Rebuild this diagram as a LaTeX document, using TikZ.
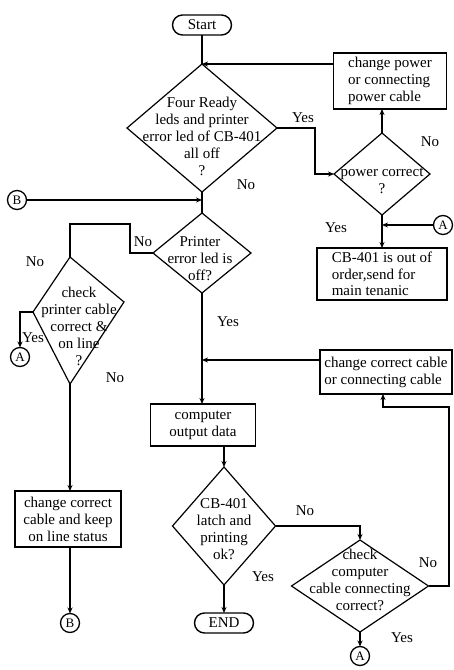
\documentclass[tikz,border=0pt]{standalone}
\usepackage{fontspec}
\setmainfont{Liberation Serif}
\usetikzlibrary{shapes.geometric,shapes.misc,arrows.meta}
\begin{document}
\begin{tikzpicture}[x=1pt,y=-1pt,
  every node/.style={font=\fontsize{15}{17}\selectfont, outer sep=0pt},
  ln/.style={line width=1.2pt},
  arr/.style={ln,-{Stealth[length=6pt,width=5pt]}},
  box/.style={draw,line width=1.6pt,inner sep=0pt},
  dia/.style={draw,diamond,line width=1.2pt,inner sep=0pt,aspect=1},
  term/.style={draw,rounded rectangle,line width=1.4pt,minimum width=59pt,minimum height=20pt,inner sep=0pt},
  circ/.style={draw,circle,line width=1.3pt,minimum size=19pt,inner sep=0pt,font=\fontsize{13}{13}\selectfont},
  txt/.style={align=center,inner sep=0pt},
  lbl/.style={inner sep=0pt}]
\useasboundingbox (0,0) rectangle (453,670);
\fill[white] (0,0) rectangle (453,670);

% terminators and connectors circles
\node[term] (start) at (202,25) {Start};
\node[term] (END) at (224,623) {END};
\node[circ] (B1) at (17,200) {B};
\node[circ] (B2) at (70,623) {B};
\node[circ] (A1) at (20,357) {A};
\node[circ] (A3) at (443,225) {A};
\node[circ] (A4) at (360,656) {A};

% diamonds
\node[dia,minimum width=150pt,minimum height=128pt] (d1) at (202,128) {};
\node[txt] (t1) at (202,136) {Four Ready\\leds and printer\\error led of CB-401\\all off\\?};
\node[dia,minimum width=96pt,minimum height=82pt] (d2) at (382,174) {};
\node[txt] (t2) at (382,181) {power correct\\?};
\node[dia,minimum width=98pt,minimum height=80pt] (d3) at (202,253) {};
\node[txt] (t3) at (200,259) {Printer\\error led is\\off?};
\coordinate (d4n) at (70,257);
\coordinate (d4w) at (33,312);
\coordinate (d4e) at (124,302);
\coordinate (d4s) at (70,384);
\draw[line width=1.2pt] (d4n) -- (d4e) -- (d4s) -- (d4w) -- cycle;
\node[txt] (t4) at (79,326) {check\\printer cable\\correct \&\\on line\\?};
\node[dia,minimum width=103pt,minimum height=118pt] (d5) at (224,526) {};
\node[txt] (t5) at (224,529) {CB-401\\latch and\\printing\\ok?};
\node[dia,minimum width=137pt,minimum height=92pt] (d6) at (360,586) {};
\node[txt] (t6) at (360,580) {check\\computer\\cable connecting\\correct?};

% boxes
\node[box,align=left,minimum width=113pt,minimum height=56pt] (p1) at (390,81) {change power\\or connecting\\power cable};
\node[box,align=left,minimum width=130pt,minimum height=52pt,font=\fontsize{15}{16.5}\selectfont] (cb) at (382,274) {CB-401 is out of\\order,send for\\main tenanic};
\node[box,align=left,minimum width=132pt,minimum height=44pt] (cc) at (386,372) {change correct cable\\or connecting cable};
\node[box,align=center,minimum width=105pt,minimum height=42pt] (co) at (203,425) {computer\\output data};
\node[box,align=center,minimum width=106pt,minimum height=56pt] (c1) at (68,519) {change correct\\cable and keep\\on line status};

% junction coordinates
\coordinate (j0) at (202,200);
\coordinate (j1) at (382,225);
\coordinate (j2) at (202,360);
\coordinate (k1) at (315,174);
\coordinate (k3) at (130,224);
\coordinate (k2) at (449,407);
\coordinate (k5) at (383,407);

% connectors
\draw[ln] (start.south) -- (d1.north);
\draw[arr] (p1.west |- d1.north) -- (d1.north);
\draw[ln] (d1.south) -- (d3.north);
\draw[arr] (B1.east) -- (j0);
\draw[arr] (d1.east) -| (k1) -- (d2.west);
\draw[arr] (d2.north) -- (d2.north |- p1.south);
\draw[arr] (d2.south) -- (cb.north);
\draw[arr] (A3.west) -- (j1);
\draw[ln] (d3.west) -| (k3) -| (d4n);
\draw[arr] (d4w) -| (A1.north);
\draw[arr] (d4s) -- (d4s |- c1.north);
\draw[arr] (B2 |- c1.south) -- (B2.north);
\draw[arr] (d3.south) -- (d3.south |- co.north);
\draw[arr] (cc.west |- j2) -- (j2);
\draw[arr] (d5.north |- co.south) -- (d5.north);
\draw[arr] (d5.south) -- (END.north);
\draw[arr] (d5.east) -| (d6.north);
\draw[arr] (d6.east) -| (k2) -- (k5) -- (k5 |- cc.south);
\draw[arr] (d6.south) -- (A4.north);

% labels
\node[lbl] (l1) at (303,118) {Yes};
\node[lbl] (l2) at (246,185) {No};
\node[lbl] (l3) at (430,142) {No};
\node[lbl] (l4) at (336,228) {Yes};
\node[lbl] (l5) at (143,242) {No};
\node[lbl] (l6) at (35,262) {No};
\node[lbl] (l7) at (33,338) {Yes};
\node[lbl] (l8) at (115,378) {No};
\node[lbl] (l9) at (228,322) {Yes};
\node[lbl] (l10) at (305,511) {No};
\node[lbl] (l11) at (263,577) {Yes};
\node[lbl] (l12) at (428,563) {No};
\node[lbl] (l13) at (402,638) {Yes};
\end{tikzpicture}
\end{document}
